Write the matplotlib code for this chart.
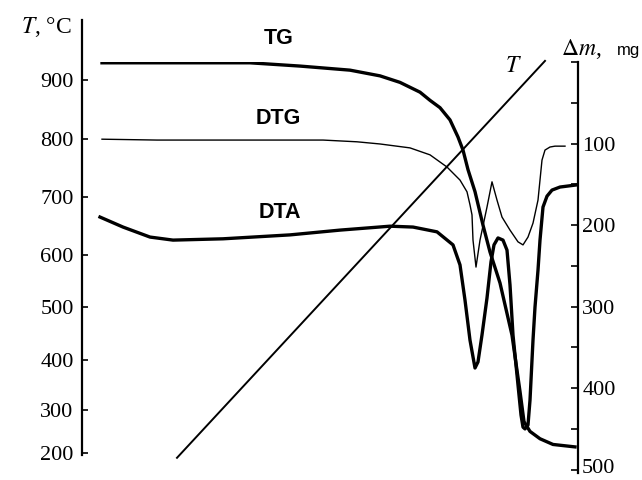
"""Derivatogram: TG, DTG, DTA and furnace temperature against time."""

import matplotlib.pyplot as plt
import matplotlib.transforms as mtransforms
import numpy as np

plt.rcParams["font.family"] = "Liberation Serif"
plt.rcParams["mathtext.fontset"] = "stix"

# %% data (time in min)
tg_time = [5.0, 42.0, 54.5, 67.0, 74.5, 79.5, 84.5, 87.0, 89.5, 92.0, 94.0,
           95.25, 96.5, 98.25, 100.25, 102.0, 104.5, 107.5, 109.5, 110.5,
           112.0, 114.5, 117.75, 123.25]
tg_loss = [1, 1, 5, 10, 17, 25, 37, 47, 56, 71, 92, 108, 132, 159, 200, 233,
           271, 335, 404, 441, 453, 462, 469, 472]  # mg

dtg_time = [5.0, 18.75, 43.75, 60.25, 68.75, 74.5, 82.0, 87.0, 91.25, 94.5,
            96.25, 97.0, 97.5, 97.75, 98.5, 99.5, 101.25, 102.5, 103.75, 105.0,
            107.0, 109.0, 110.25, 111.5, 112.75, 114.0, 115.0, 115.75, 117.0,
            118.25, 120.75]
dtg_signal = [72.6, 72.4, 72.4, 72.4, 72.0, 71.5, 70.6, 69.0, 66.2, 63.2,
              60.5, 57.5, 55.2, 49.4, 43.2, 49.4, 57.0, 62.8, 58.6, 54.7,
              51.7, 49.0, 48.3, 50.1, 53.3, 58.6, 67.8, 70.1, 70.8, 71.0, 71.0]

dta_time = [4.5, 10.25, 17.0, 22.75, 35.25, 52.0, 64.5, 77.0, 82.75, 88.75,
            92.75, 94.5, 95.75, 97.0, 98.25, 99.0, 100.0, 101.25, 102.25, 103.0,
            104.0, 105.25, 106.25, 107.0, 107.75, 108.75, 109.75, 110.25,
            110.75, 111.5, 112.0, 112.75, 113.25, 114.0, 114.5, 115.25, 116.25,
            117.5, 119.5, 123.75]
dta_signal = [54.7, 52.4, 50.1, 49.4, 49.7, 50.6, 51.7, 52.6, 52.4, 51.3,
              48.3, 43.7, 35.6, 26.4, 20.0, 21.4, 27.6, 36.1, 44.4, 48.3,
              49.9, 49.4, 47.1, 39.1, 27.6, 18.4, 9.2, 6.4, 6.0, 6.9, 12.6,
              26.4, 34.0, 42.5, 49.4, 57.0, 59.5, 60.9, 61.6, 62.1]

heat_time = [23.75, 115.75]
heat_temp = [188, 932]  # °C

temp_ticks = [200, 300, 400, 500, 600, 700, 800, 900]
mass_ticks = [0, 100, 200, 300, 400, 500]
mass_labels = ["", "100", "200", "300", "400", "500"]

# thermocouple scale of the temperature axis (°C -> chart height)
scale_temp = [100, 200, 300, 400, 500, 600, 700, 800, 900, 1000]
scale_height = [-13, 27, 70, 120, 173, 225, 282, 340, 399, 459]


def temp_forward(t):
    return np.interp(t, scale_temp, scale_height)


def temp_inverse(h):
    return np.interp(h, scale_height, scale_temp)


# %% figure
W, H = 642, 480
fig = plt.figure(figsize=(W / 100, H / 100), dpi=100)


def box(left, top, right, bottom):
    return [left / W, 1 - bottom / H, (right - left) / W, (bottom - top) / H]


ax_t = fig.add_axes(box(82, 20, 578, 455))
ax_m = fig.add_axes(box(82, 62, 578, 473))
ax_sig = fig.add_axes(box(82, 20, 578, 455))

for ax in (ax_t, ax_m, ax_sig):
    ax.set_xlim(0, 124)
    ax.patch.set_visible(False)
    ax.set_xticks([])
    for side in ("top", "bottom", "left", "right"):
        ax.spines[side].set_visible(False)

# temperature axis
ax_t.set_yscale("function", functions=(temp_forward, temp_inverse))
ax_t.set_ylim(195, 1000)
ax_t.set_yticks(temp_ticks)
ax_t.yaxis.set_minor_locator(plt.NullLocator())
ax_t.spines["left"].set_visible(True)
ax_t.spines["left"].set_linewidth(1.6)
ax_t.tick_params(axis="y", direction="in", length=4, width=1.2,
                 labelsize=16, pad=6)
ax_t.plot(heat_time, heat_temp, color="black", lw=1.4, clip_on=False)

# mass-loss axis
ax_m.set_ylim(504, 0)
ax_m.yaxis.tick_right()
ax_m.set_yticks(mass_ticks)
ax_m.set_yticklabels(mass_labels)
ax_m.set_yticks(np.arange(50, 500, 100), minor=True)
ax_m.spines["right"].set_visible(True)
ax_m.spines["right"].set_linewidth(1.6)
ax_m.tick_params(axis="y", which="both", direction="in", length=5, width=1.2,
                 labelsize=16, pad=3)
# lift the bottom label a little so it stays inside the figure
nudge = mtransforms.ScaledTranslation(0, 4 / 100, fig.dpi_scale_trans)
last = ax_m.get_yticklabels()[-1]
last.set_transform(last.get_transform() + nudge)
ax_m.plot(tg_time, tg_loss, color="black", lw=2.4, solid_joinstyle="round")

# DTG / DTA signals, relative units
ax_sig.set_ylim(0, 100)
ax_sig.set_yticks([])
ax_sig.plot(dtg_time, dtg_signal, color="black", lw=1.0,
            solid_joinstyle="round")
ax_sig.plot(dta_time, dta_signal, color="black", lw=2.4,
            solid_joinstyle="round")

# curve names and axis titles
for name, (px, py) in {"TG": (279, 38), "DTG": (278, 118),
                       "DTA": (280, 213)}.items():
    fig.text(px / W, 1 - py / H, name, family="Liberation Sans",
             weight="bold", size=15.5, ha="center", va="center")

fig.text(72 / W, 1 - 27 / H, "$T$, °C", size=17, ha="right", va="center")
fig.text(513 / W, 1 - 67 / H, "$T$", size=17, ha="center", va="center")
fig.text(561 / W, 1 - 55 / H, r"$\Delta m$,", size=17, ha="left",
         va="baseline")
fig.text(617 / W, 1 - 55 / H, "mg", family="Liberation Sans", size=12,
         ha="left", va="baseline")

fig.savefig("out.png", dpi=100)
